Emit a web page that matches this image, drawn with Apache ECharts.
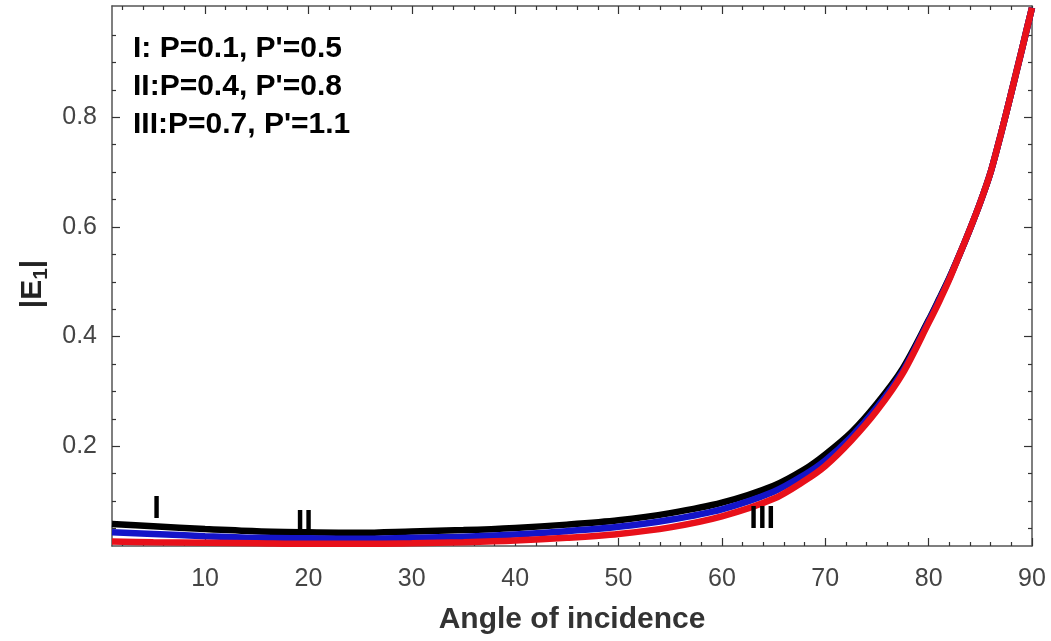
<!DOCTYPE html>
<html>
<head>
<meta charset="utf-8">
<script src="https://cdn.jsdelivr.net/npm/echarts@6/dist/echarts.min.js"></script>
<style>html,body{margin:0;padding:0;background:#fff;}#c{width:1051px;height:641px;}</style>
</head>
<body>
<div id="c"></div>
<script>
// ---- data ----
const angles = [1, 5, 10, 15, 20, 25, 30, 35, 40, 45, 50, 55, 60, 65, 68, 70, 72.5, 75, 77.5, 80, 81, 82, 83, 84, 85, 86, 87, 88, 89, 90];
const curveI   = [0.058, 0.054, 0.049, 0.045, 0.043, 0.042, 0.0445, 0.047, 0.051, 0.057, 0.065, 0.078, 0.097, 0.128, 0.158, 0.185, 0.225, 0.278, 0.342, 0.430, 0.468, 0.507, 0.550, 0.596, 0.645, 0.70, 0.77, 0.845, 0.922, 1.0];
const curveII  = [0.043, 0.040, 0.036, 0.033, 0.032, 0.031, 0.033, 0.035, 0.039, 0.045, 0.053, 0.066, 0.085, 0.117, 0.148, 0.174, 0.217, 0.271, 0.337, 0.428, 0.466, 0.506, 0.550, 0.596, 0.645, 0.70, 0.77, 0.845, 0.922, 1.0];
const curveIII = [0.026, 0.025, 0.024, 0.023, 0.022, 0.022, 0.023, 0.025, 0.028, 0.033, 0.040, 0.052, 0.072, 0.104, 0.137, 0.164, 0.210, 0.265, 0.333, 0.425, 0.463, 0.504, 0.550, 0.596, 0.645, 0.70, 0.77, 0.845, 0.922, 1.0];
const seriesNames = ['I', 'II', 'III'];
const annoX = [5.3, 19.6, 63.9];
const annoY = [0.085, 0.060, 0.066];
const legendLines = ["I: P=0.1, P'=0.5", "II:P=0.4, P'=0.8", "III:P=0.7, P'=1.1"];
const xMajorTicks = [10, 20, 30, 40, 50, 60, 70, 80, 90];
const xMinorTicks = [2, 4, 6, 8, 12, 14, 16, 18, 22, 24, 26, 28, 32, 34, 36, 38, 42, 44, 46, 48, 52, 54, 56, 58, 62, 64, 66, 68, 72, 74, 76, 78, 82, 84, 86, 88];
const yMajorTicks = [0.2, 0.4, 0.6, 0.8];
const yMinorTicks = [0.05, 0.1, 0.15, 0.25, 0.3, 0.35, 0.45, 0.5, 0.55, 0.65, 0.7, 0.75, 0.85, 0.9, 0.95];
const xRange = [1, 90];
const yRange = [0.018, 1.003];

// ---- chart ----
const FONT = "'Liberation Sans', Arial, sans-serif";
const AX = '#555';
function mkX(pos, ticks, len, withLabel, withLine, name) {
  return {
    type: 'value', position: pos, min: xRange[0], max: xRange[1],
    name: name || '', nameLocation: 'middle', nameGap: 59,
    nameTextStyle: { fontFamily: FONT, fontSize: 30, fontWeight: 'bold', color: '#333' },
    axisLine: { show: withLine, onZero: false, lineStyle: { color: AX, width: 1.5 } },
    axisTick: { show: true, inside: true, length: len, customValues: ticks, lineStyle: { color: '#333', width: 1.2 } },
    axisLabel: { show: withLabel, customValues: ticks, margin: 21, fontFamily: FONT, fontSize: 25, color: '#444' },
    splitLine: { show: false }, minorTick: { show: false }
  };
}
function mkY(pos, ticks, len, withLabel, withLine, name) {
  return {
    type: 'value', position: pos, min: yRange[0], max: yRange[1],
    name: name || '', nameLocation: 'middle', nameGap: 58,
    nameTextStyle: { fontFamily: FONT, fontSize: 30, fontWeight: 'bold', color: '#222', padding: [0, 16, 0, 0],
      rich: {
        m: { fontFamily: FONT, fontSize: 30, fontWeight: 'bold', color: '#222', verticalAlign: 'top', lineHeight: 34 },
        sub: { fontFamily: FONT, fontSize: 21, fontWeight: 'bold', color: '#222', verticalAlign: 'bottom', lineHeight: 22, padding: [20, 0, 0, 0] }
      } },
    axisLine: { show: withLine, onZero: false, lineStyle: { color: AX, width: 1.5 } },
    axisTick: { show: true, inside: true, length: len, customValues: ticks, lineStyle: { color: '#333', width: 1.2 } },
    axisLabel: { show: withLabel, customValues: ticks, margin: 15, fontFamily: FONT, fontSize: 25, color: '#444',
      formatter: v => String(v) },
    splitLine: { show: false }, minorTick: { show: false }
  };
}
function pairs(ys) { return angles.map((a, i) => [a, ys[i]]); }

const colors = ['#000000', '#1414c8', '#e8101a'];
const curves = [curveI, curveII, curveIII];
const lineSeries = curves.map((c, i) => ({
  type: 'line', name: seriesNames[i], data: pairs(c), showSymbol: false,
  smooth: 0.3, z: 2 + i,
  lineStyle: { color: colors[i], width: 6.5 }, itemStyle: { color: colors[i] }
}));

const chart = echarts.init(document.getElementById('c'), null, { renderer: 'canvas' });
chart.setOption({
  animation: false,
  backgroundColor: '#ffffff',
  grid: { left: 112, right: 19, top: 6, bottom: 95, containLabel: false, outerBoundsMode: 'none' },
  title: {
    text: legendLines.join('\n'), left: 128, top: 25,
    textStyle: { fontFamily: FONT, fontSize: 30, fontWeight: 'bold', color: '#000', lineHeight: 38 }
  },
  xAxis: [
    mkX('bottom', xMajorTicks, 8, true, true, 'Angle of incidence'),
    mkX('bottom', xMinorTicks, 4, false, false),
    mkX('top', xMajorTicks, 8, false, true),
    mkX('top', xMinorTicks, 4, false, false)
  ],
  yAxis: [
    mkY('left', yMajorTicks, 8, true, true, '{m||E}{sub|1}{m||}'),
    mkY('left', yMinorTicks, 4, false, false),
    mkY('right', yMajorTicks, 8, false, true),
    mkY('right', yMinorTicks, 4, false, false)
  ],
  series: lineSeries.concat([{
    type: 'scatter', symbolSize: 0, z: 10,
    itemStyle: { opacity: 1 },
    data: annoX.map((x, i) => ({ value: [x, annoY[i]], name: seriesNames[i] })),
    label: { show: true, position: 'inside', formatter: p => p.name, opacity: 1,
      fontFamily: FONT, fontSize: 31, fontWeight: 'bold', color: '#000' }
  }])
});
</script>
</body>
</html>
